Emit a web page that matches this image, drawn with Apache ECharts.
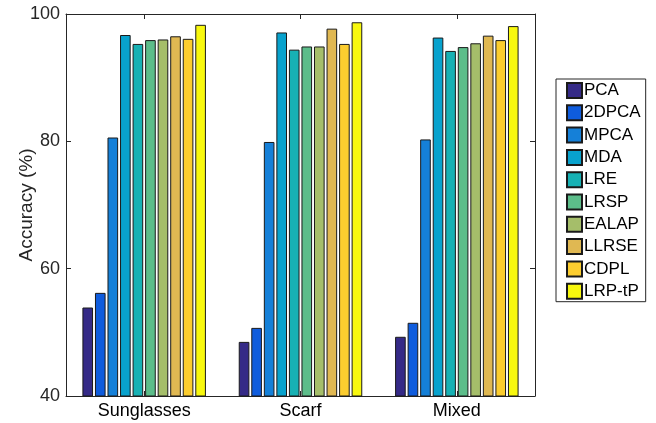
<!DOCTYPE html>
<html>
<head>
<meta charset="utf-8">
<script src="https://cdn.jsdelivr.net/npm/echarts@6/dist/echarts.min.js"></script>
<style>html,body{margin:0;padding:0;background:#fff;}#c{width:656px;height:423px;}</style>
</head>
<body>
<div id="c"></div>
<script>
const categories = ['Sunglasses', 'Scarf', 'Mixed'];
const methods = ['PCA', '2DPCA', 'MPCA', 'MDA', 'LRE', 'LRSP', 'EALAP', 'LLRSE', 'CDPL', 'LRP-tP'];
const colors = ['#352a87', '#0f5cdd', '#1580d8', '#08a2cd', '#17b1b4', '#5cbd8a', '#a5be6a', '#e0b852', '#fccd2f', '#f8f80e'];
const PCA    = [53.9, 48.5, 49.3];
const DPCA2  = [56.2, 50.7, 51.5];
const MPCA   = [80.6, 79.9, 80.3];
const MDA    = [96.7, 97.1, 96.3];
const LRE    = [95.3, 94.4, 94.2];
const LRSP   = [95.9, 94.9, 94.8];
const EALAP  = [96.0, 94.9, 95.4];
const LLRSE  = [96.5, 97.7, 96.6];
const CDPL   = [96.1, 95.3, 95.9];
const LRPtP  = [98.3, 98.7, 98.1];
const yTicks = [40, 60, 80, 100];
const values = [PCA, DPCA2, MPCA, MDA, LRE, LRSP, EALAP, LLRSE, CDPL, LRPtP];

const font = '"Liberation Sans", Arial, sans-serif';
const axisColor = '#262626';
const chart = echarts.init(document.getElementById('c'), null, {renderer: 'canvas'});
chart.setOption({
  animation: false,
  backgroundColor: '#fff',
  grid: {left: 66, right: 121, top: 14, bottom: 27, containLabel: false},
  legend: {
    orient: 'vertical',
    left: 556, top: 79,
    data: methods,
    itemWidth: 15, itemHeight: 15, itemGap: 5.3,
    padding: [3, 5, 2, 10],
    borderColor: '#262626', borderWidth: 1,
    backgroundColor: '#fff',
    icon: 'rect',
    textStyle: {fontFamily: font, fontSize: 17, color: '#000', padding: [0, 0, 0, -3]}
  },
  xAxis: [{
    type: 'category', data: categories, position: 'bottom',
    axisLine: {lineStyle: {color: axisColor, width: 1}},
    axisTick: {show: true, inside: true, alignWithLabel: true, length: 5, lineStyle: {color: axisColor}},
    axisLabel: {fontFamily: font, fontSize: 18, color: '#000', margin: 6}
  }, {
    type: 'category', data: categories, position: 'top',
    axisLine: {show: true, lineStyle: {color: axisColor, width: 1}},
    axisTick: {show: true, inside: true, alignWithLabel: true, length: 5, lineStyle: {color: axisColor}},
    axisLabel: {show: false}
  }],
  yAxis: [{
    type: 'value', min: 40, max: 100, interval: 20,
    name: 'Accuracy (%)', nameLocation: 'middle', nameGap: 30, nameMoveOverlap: false,
    nameTextStyle: {fontFamily: font, fontSize: 19, color: '#262626'},
    axisLine: {show: true, lineStyle: {color: axisColor, width: 1}},
    axisTick: {show: true, inside: true, length: 5, lineStyle: {color: axisColor}},
    axisLabel: {fontFamily: font, fontSize: 18, color: '#262626', margin: 6,
      formatter: v => yTicks.includes(v) ? String(v) : ''},
    splitLine: {show: false}
  }, {
    type: 'value', min: 40, max: 100, interval: 20, position: 'right',
    axisLine: {show: true, lineStyle: {color: axisColor, width: 1}},
    axisTick: {show: true, inside: true, length: 5, lineStyle: {color: axisColor}},
    axisLabel: {show: false},
    splitLine: {show: false}
  }],
  series: methods.map((m, i) => ({
    name: m, type: 'bar', xAxisIndex: 0, yAxisIndex: 0,
    data: values[i],
    barGap: '18%', barCategoryGap: '21%',
    itemStyle: {color: colors[i], borderColor: '#1a1a1a', borderWidth: 1}
  }))
});
</script>
</body>
</html>
